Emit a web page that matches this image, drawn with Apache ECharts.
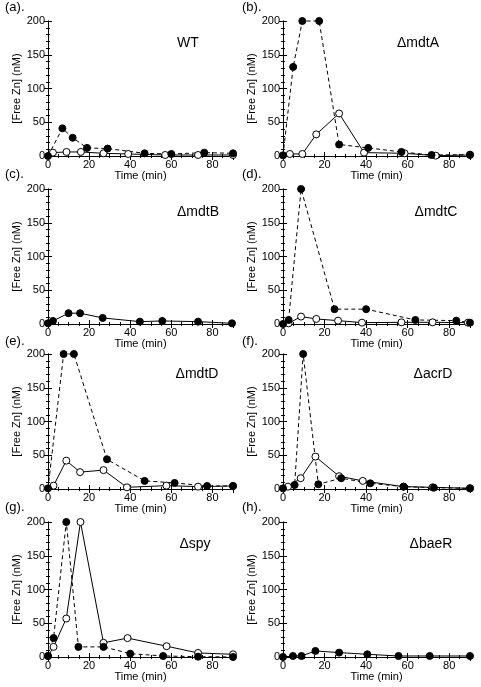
<!DOCTYPE html>
<html><head><meta charset="utf-8">
<script src="https://cdn.jsdelivr.net/npm/echarts@6/dist/echarts.min.js"></script>
<style>html,body{margin:0;padding:0;background:#fff}#c{width:481px;height:687px}</style>
</head><body><div id="c"></div>
<script>
// x ticks / y ticks
const xTicks = [0, 20, 40, 60, 80];
const yTicks = [0, 50, 100, 150, 200];

// (a) WT
const aFilled = [[0,0],[7,41],[12,27],[19,12],[29,11],[47,4],[60,3],[76,5],[90,4]];
const aOpen   = [[2.4,5],[9,6],[16,6],[27,4],[39,3],[57,1.5],[73,1.5],[90,1.5]];
// (b) ΔmdtA
const bFilled = [[0,1],[4.9,132],[9.3,200],[17.4,200],[27,17],[41,12],[57,6],[71.5,1.5],[90,2]];
const bOpen   = [[3.3,3],[9.3,3],[16,32],[27,63],[39,5],[58.5,4],[73.5,0.5],[90,1.5]];
// (c) ΔmdtB
const cFilled = [[0,1],[2.4,4.5],[10,16],[15.6,16],[26.6,9],[44.7,3.5],[55.6,4.5],[73,3.5],[89.5,1]];
const cOpen   = [];
// (d) ΔmdtC
const dFilled = [[0,0],[2.7,6],[8.7,200],[24.8,22],[40,22],[63.7,6],[83.4,5],[90,2]];
const dOpen   = [[2.7,1],[8.7,11],[16,7.5],[26.5,5],[38,2],[57,2.5],[72,2.5],[89,2]];
// (e) ΔmdtD
const eFilled = [[0,1],[7.6,200],[12.6,200],[28.7,44],[47,12],[61.6,9],[77.4,4.5],[90,4.5]];
const eOpen   = [[2.7,5],[8.9,42],[15.6,25],[27,28],[38.4,2.5],[57.6,5],[73,3.5],[90,4.5]];
// (f) ΔacrD
const fFilled = [[0,1],[5.6,6],[9.7,200],[17,7],[28,16],[42,8.4],[58,3.5],[72.6,2],[90,1]];
const fOpen   = [[2.4,3.5],[8.5,16],[15.6,48],[27,19],[38.4,12],[58,3.5],[72,2.5],[90,1]];
// (g) Δspy
const gFilled = [[0,1.5],[2.7,28],[8.9,200],[14.8,15],[27,15],[40,5],[56,1.5],[73,0.5],[90,0]];
const gOpen   = [[0,1.5],[2.7,15],[8.9,57],[15.8,200],[27,21],[38.7,28],[57.7,16],[73,6],[90,4]];
// (h) ΔbaeR
const hFilled = [[0,0],[4.8,1.5],[8.9,1.5],[15.6,9],[27,6.5],[40.6,4],[55.6,1.5],[70.6,1.5],[90,1.5]];
const hOpen   = [];

const letters = ['(a).','(b).','(c).','(d).','(e).','(f).','(g).','(h).'];
const strains = ['WT','\u0394mdtA','\u0394mdtB','\u0394mdtC','\u0394mdtD','\u0394acrD','\u0394spy','\u0394baeR'];
const filledSets = [aFilled,bFilled,cFilled,dFilled,eFilled,fFilled,gFilled,hFilled];
const openSets = [aOpen,bOpen,cOpen,dOpen,eOpen,fOpen,gOpen,hOpen];
const filledDashed = [true,true,false,true,true,true,true,false];

// layout
const colLeft = [48, 283], colWidth = [185, 187];
const rowTop = [21, 189, 354, 522], plotH = 135;
const strainPos = [[188,43],[418,43],[198,212],[436,212],[197,374],[433,374],[195,544],[431,544]];
const letterY = [8, 175, 342, 508];

const FONT = 'Liberation Sans, Arial, Helvetica, sans-serif';
const grid = [], xAxis = [], yAxis = [], series = [], graphic = [];
for (let i = 0; i < 8; i++) {
  const col = i % 2, row = Math.floor(i / 2);
  grid.push({left: colLeft[col], top: rowTop[row], width: colWidth[col], height: plotH, containLabel: false});
  const line = {show: true, lineStyle: {color: '#000', width: 1}};
  xAxis.push({type: 'value', gridIndex: i, min: 0, max: 90, interval: 20, position: 'bottom',
    axisLine: line, axisTick: {show: true, inside: true, length: 4, lineStyle: {color: '#000'}},
    minorTick: {show: true, splitNumber: 4, length: 2, lineStyle: {color: '#000'}},
    axisLabel: {color: '#000', fontSize: 11, fontFamily: FONT, margin: 3,
      formatter: v => xTicks.includes(v) ? String(v) : ''},
    splitLine: {show: false},
    name: 'Time (min)', nameLocation: 'middle', nameGap: 14,
    nameTextStyle: {color: '#000', fontSize: 11, fontFamily: FONT}});
  xAxis.push({type: 'value', gridIndex: i, min: 0, max: 90, interval: 20, position: 'top',
    axisLine: line, axisTick: {show: true, inside: true, length: 4, lineStyle: {color: '#000'}},
    minorTick: {show: true, splitNumber: 4, length: 2, lineStyle: {color: '#000'}},
    axisLabel: {show: false}, splitLine: {show: false}});
  yAxis.push({type: 'value', gridIndex: i, min: 0, max: 200, interval: 50, position: 'left',
    axisLine: line, axisTick: {show: true, inside: true, length: 4, lineStyle: {color: '#000'}},
    minorTick: {show: true, splitNumber: 5, length: 2, lineStyle: {color: '#000'}},
    axisLabel: {color: '#000', fontSize: 11, fontFamily: FONT, margin: 3,
      formatter: v => yTicks.includes(v) ? String(v) : ''},
    splitLine: {show: false},
    name: '[Free Zn] (nM)', nameLocation: 'middle', nameGap: 19,
    nameTextStyle: {color: '#000', fontSize: 11, fontFamily: FONT}});
  yAxis.push({type: 'value', gridIndex: i, min: 0, max: 200, interval: 50, position: 'right',
    axisLine: line, axisTick: {show: true, inside: true, length: 4, lineStyle: {color: '#000'}},
    minorTick: {show: true, splitNumber: 5, length: 2, lineStyle: {color: '#000'}},
    axisLabel: {show: false}, splitLine: {show: false}});
  if (openSets[i].length) {
    series.push({type: 'line', xAxisIndex: 2*i, yAxisIndex: 2*i, data: openSets[i], clip: false,
      symbol: 'circle', symbolSize: 7, animation: false,
      lineStyle: {color: '#000', width: 1, type: 'solid'},
      itemStyle: {color: '#fff', borderColor: '#000', borderWidth: 1}});
  }
  series.push({type: 'line', xAxisIndex: 2*i, yAxisIndex: 2*i, data: filledSets[i], clip: false,
    symbol: 'circle', symbolSize: 7, animation: false,
    lineStyle: {color: '#000', width: 1, type: filledDashed[i] ? [4, 3] : 'solid'},
    itemStyle: {color: '#000', borderColor: '#000', borderWidth: 1}});
  graphic.push({type: 'text', left: col === 0 ? 5 : 242, top: letterY[row] - 7,
    style: {text: letters[i], fill: '#000', font: '13px ' + FONT}});
  graphic.push({type: 'text', x: strainPos[i][0], y: strainPos[i][1],
    style: {text: strains[i], fill: '#000', font: '14px ' + FONT, textAlign: 'center', textVerticalAlign: 'middle'}});
}

const chart = echarts.init(document.getElementById('c'), null, {renderer: 'canvas'});
chart.setOption({animation: false, backgroundColor: '#fff', grid, xAxis, yAxis, series, graphic});
</script></body></html>
